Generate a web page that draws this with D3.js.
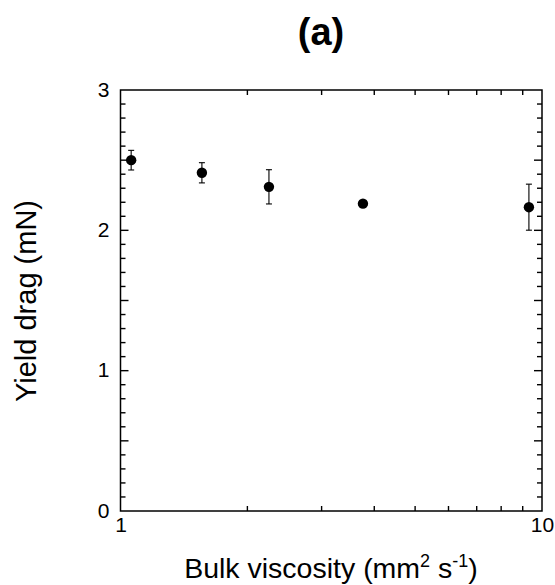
<!DOCTYPE html>
<html>
<head>
<meta charset="utf-8">
<script src="https://cdn.jsdelivr.net/npm/d3@7"></script>
<style>
  html, body { margin: 0; padding: 0; background: #fff; }
  svg { display: block; }
  text { font-family: "Liberation Sans", Arial, Helvetica, sans-serif; fill: #000; }
</style>
</head>
<body>
<svg id="chart" width="555" height="585"></svg>
<script>
// Bulk viscosity (mm^2 s^-1) and yield drag (mN) with error half-widths
const viscosity = [1.06, 1.56, 2.25, 3.76, 9.31];
const yieldDrag = [2.50, 2.41, 2.31, 2.19, 2.165];
const dragError = [0.07, 0.072, 0.122, 0, 0.164];

const yTickLabels = [0, 1, 2, 3];
const xTickLabels = [1, 10];
const xMinorTicks = [2, 3, 4, 5, 6, 7, 8, 9];

const title = "(a)";
const yTitle = "Yield drag (mN)";

const svg = d3.select("#chart");
const plotL = 120.5, plotR = 542, plotT = 90, plotB = 511;

const x = d3.scaleLog().domain([1, 10]).range([plotL, plotR]);
const y = d3.scaleLinear().domain([0, 3]).range([plotB, plotT]);

// y ticks every 0.1, longer every 0.5; all ticks point into the frame
const yTicks = d3.range(1, 30).map(i => ({ v: i / 10, len: i % 5 === 0 ? 8 : 5 }));

const tickG = svg.append("g").attr("stroke", "#000").attr("stroke-width", 1.4);
tickG.selectAll("line.yl").data(yTicks).join("line").attr("class", "yl")
  .attr("x1", plotL).attr("x2", d => plotL + d.len)
  .attr("y1", d => y(d.v)).attr("y2", d => y(d.v));
tickG.selectAll("line.yr").data(yTicks).join("line").attr("class", "yr")
  .attr("x1", plotR).attr("x2", d => plotR - d.len)
  .attr("y1", d => y(d.v)).attr("y2", d => y(d.v));
tickG.selectAll("line.xb").data(xMinorTicks).join("line").attr("class", "xb")
  .attr("x1", d => x(d)).attr("x2", d => x(d))
  .attr("y1", plotB).attr("y2", plotB - 5);
tickG.selectAll("line.xt").data(xMinorTicks).join("line").attr("class", "xt")
  .attr("x1", d => x(d)).attr("x2", d => x(d))
  .attr("y1", plotT).attr("y2", plotT + 5);

// Tick labels
const yLab = svg.append("g").attr("transform", `translate(${plotL},0)`)
  .call(d3.axisLeft(y).tickValues(yTickLabels).tickSize(0).tickPadding(11).tickFormat(d3.format("d")));
yLab.select(".domain").remove();
yLab.selectAll("text").attr("font-size", 21).attr("font-family", "Liberation Sans, Arial, sans-serif").attr("dy", "0.3em");

const xLab = svg.append("g").attr("transform", `translate(0,${plotB})`)
  .call(d3.axisBottom(x).tickValues(xTickLabels).tickSize(0).tickPadding(6).tickFormat(d3.format("d")));
xLab.select(".domain").remove();
xLab.selectAll("text").attr("font-size", 21).attr("font-family", "Liberation Sans, Arial, sans-serif");

// Plot frame
svg.append("rect")
  .attr("x", plotL).attr("y", plotT)
  .attr("width", plotR - plotL).attr("height", plotB - plotT)
  .attr("fill", "none").attr("stroke", "#000").attr("stroke-width", 1.5);

// Error bars
const pts = viscosity.map((v, i) => ({ v, d: yieldDrag[i], e: dragError[i] }));
const eb = svg.append("g").attr("stroke", "#000").attr("stroke-width", 1.1);
pts.filter(p => p.e > 0).forEach(p => {
  const cx = x(p.v);
  eb.append("line").attr("x1", cx).attr("x2", cx).attr("y1", y(p.d - p.e)).attr("y2", y(p.d + p.e));
  eb.append("line").attr("x1", cx - 3).attr("x2", cx + 3).attr("y1", y(p.d - p.e)).attr("y2", y(p.d - p.e));
  eb.append("line").attr("x1", cx - 3).attr("x2", cx + 3).attr("y1", y(p.d + p.e)).attr("y2", y(p.d + p.e));
});

// Points
svg.append("g").selectAll("circle").data(pts).join("circle")
  .attr("cx", p => x(p.v)).attr("cy", p => y(p.d)).attr("r", 5.2).attr("fill", "#000");

// Title
svg.append("text").attr("x", 321).attr("y", 45).attr("text-anchor", "middle")
  .attr("font-size", 38).attr("font-weight", "bold").text(title);

// Axis titles
svg.append("text").attr("transform", "translate(36,301) rotate(-90)")
  .attr("text-anchor", "middle").attr("font-size", 29).text(yTitle);

const xt = svg.append("text").attr("x", 331).attr("y", 578)
  .attr("text-anchor", "middle").attr("font-size", 28.5);
xt.append("tspan").text("Bulk viscosity (mm");
xt.append("tspan").attr("font-size", 18).attr("dy", -11).text("2");
xt.append("tspan").attr("dy", 11).text(" s");
xt.append("tspan").attr("font-size", 18).attr("dy", -11).text("-1");
xt.append("tspan").attr("dy", 11).text(")");
</script>
</body>
</html>
